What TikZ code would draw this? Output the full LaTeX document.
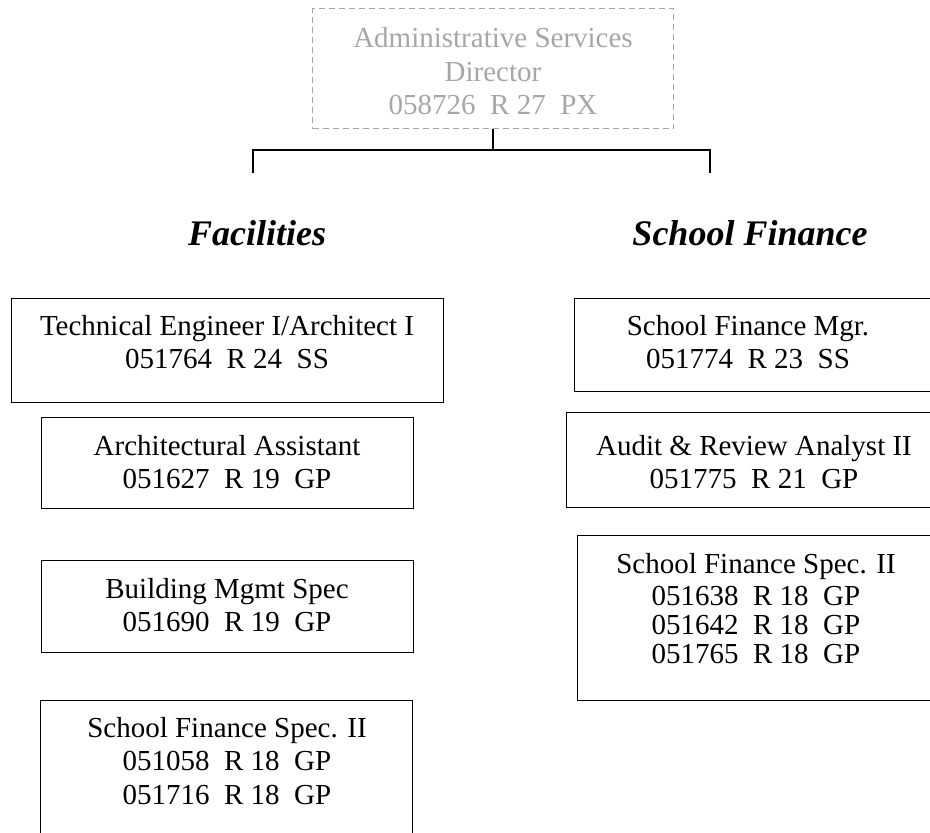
\documentclass[tikz,border=0pt]{standalone}
\usepackage{fontspec}
\setmainfont{Liberation Serif}
\definecolor{dirgray}{HTML}{A6A6A6}
\newcommand{\firstln}{\rule{0pt}{22pt}}
\begin{document}
\begin{tikzpicture}[x=1pt,y=-1pt,
  box/.style={draw, line width=1.4pt, rectangle, inner sep=0pt, anchor=north west},
  dirbox/.style={box, draw=dirgray, dash pattern=on 6pt off 4pt},
  txt/.style={font=\fontsize{29}{33}\selectfont, align=center, inner sep=0pt, anchor=north},
  head/.style={font=\fontsize{36}{40}\selectfont\bfseries\itshape, inner sep=0pt, anchor=base},
  conn/.style={draw, line width=1.6pt}]
\useasboundingbox (0,0) rectangle (930,833);
\clip (0,0) rectangle (930,833);

% director
\node[dirbox, minimum width=361pt, minimum height=120pt] (dir) at (312,8) {};
\node[txt, text=dirgray] (dirt) at (493,25) {\firstln Administrative Services\\[1pt]Director\\058726\ \ R~27\ \ PX};

% connectors
\coordinate (hl) at (253,150);
\coordinate (hr) at (710,150);
\coordinate (fl) at (253,173);
\coordinate (fr) at (710,173);
\draw[conn] (dir.south) -- (dir.south |- hl);
\draw[conn] (fl) -- (hl) -- (hr) -- (fr);

% headings
\node[head] (fac) at (257,245) {Facilities};
\node[head] (sfin) at (750,245) {School Finance};

% facilities column
\node[box, minimum width=432pt, minimum height=104pt] (te) at (11,298) {};
\node[txt] (tet) at (227,313) {\firstln Technical Engineer I/Architect I\\051764\ \ R~24\ \ SS};
\node[box, minimum width=372pt, minimum height=91pt] (arch) at (41,417) {};
\node[txt] (archt) at (227,433) {\firstln Architectural Assistant\\051627\ \ R~19\ \ GP};
\node[box, minimum width=372pt, minimum height=92pt] (bldg) at (41,560) {};
\node[txt] (bldgt) at (227,576) {\firstln Building Mgmt Spec\\051690\ \ R~19\ \ GP};
\node[box, minimum width=372pt, minimum height=200pt] (lsfs) at (40,700) {};
\node[txt] (lsfst) at (227,715) {\firstln School Finance Spec. II\\051058\ \ R~18\ \ GP\\[1pt]051716\ \ R~18\ \ GP};

% school finance column
\node[box, minimum width=400pt, minimum height=93pt] (sfm) at (574,298) {};
\node[txt] (sfmt) at (748,313) {\firstln School Finance Mgr.\\051774\ \ R~23\ \ SS};
\node[box, minimum width=400pt, minimum height=95pt] (aud) at (566,412) {};
\node[txt] (audt) at (754,433) {\firstln Audit \& Review Analyst II\\051775\ \ R~21\ \ GP};
\node[box, minimum width=400pt, minimum height=165pt] (rsfs) at (577,535) {};
\node[txt] (rsfst) at (756,551) {\firstln School Finance Spec. II\\[-1pt]051638\ \ R~18\ \ GP\\[-4pt]051642\ \ R~18\ \ GP\\[-4pt]051765\ \ R~18\ \ GP};
\end{tikzpicture}
\end{document}
